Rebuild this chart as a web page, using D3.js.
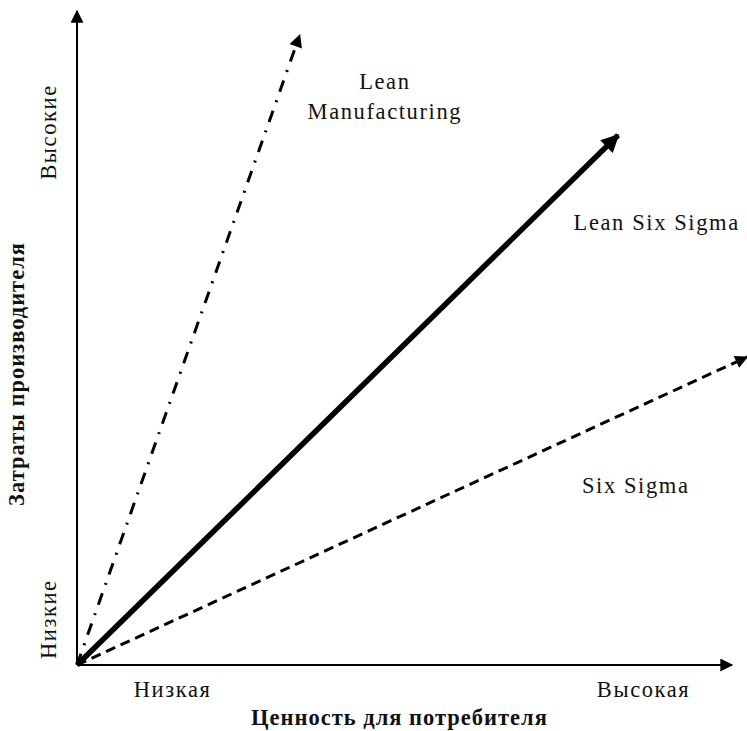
<!DOCTYPE html>
<html lang="ru">
<head>
<meta charset="utf-8">
<title>Lean / Six Sigma</title>
<style>
  body { margin: 0; background: #fff; }
  text { font-family: "Times New Roman", "Liberation Serif", "DejaVu Serif", serif; fill: #111; }
  .axis-title { font-weight: bold; font-size: 22.5px; letter-spacing: 1px; }
  .tick-label { font-size: 22.5px; letter-spacing: 1.6px; }
  .series-label { font-size: 22.5px; letter-spacing: 1.6px; }
</style>
</head>
<body>
<script src="https://cdn.jsdelivr.net/npm/d3@7"></script>
<script>
// data (both axes 0..100)
var seriesNames = ["Lean Manufacturing", "Lean Six Sigma", "Six Sigma"];
var seriesEndX = [34, 82.6, 102.3];
var seriesEndY = [96.3, 81, 47.1];
var seriesLabelLines = [["Lean", "Manufacturing"], ["Lean Six Sigma"], ["Six Sigma"]];
var seriesLabelX = [47, 88.5, 85.3];
var seriesLabelY = [88, 66.5, 26.3];

var xTickLabels = ["Низкая", "Высокая"];
var xTickValues = [14.6, 86.5];
var yTickLabels = ["Низкие", "Высокие"];
var yTickValues = [7, 81.5];
var xTitle = "Ценность для потребителя";
var yTitle = "Затраты производителя";

var width = 747, height = 731;
var x = d3.scaleLinear().domain([0, 100]).range([77, 732]);
var y = d3.scaleLinear().domain([0, 100]).range([665, 11]);

var svg = d3.select("body").append("svg")
    .attr("width", width)
    .attr("height", height);

var defs = svg.append("defs");
function marker(id, w, h) {
  defs.append("marker")
      .attr("id", id)
      .attr("viewBox", "0 0 10 10")
      .attr("refX", 9).attr("refY", 5)
      .attr("markerUnits", "userSpaceOnUse")
      .attr("markerWidth", w).attr("markerHeight", h)
      .attr("orient", "auto")
    .append("path")
      .attr("d", "M0,0 L10,5 L0,10 Z")
      .attr("fill", "#000");
}
marker("axisHead", 14, 13);
marker("thickHead", 20, 18);
marker("thinHead", 15, 13);

// axes
svg.append("line")
    .attr("x1", x(0)).attr("y1", y(0))
    .attr("x2", x(100)).attr("y2", y(0))
    .attr("stroke", "#000").attr("stroke-width", 2)
    .attr("marker-end", "url(#axisHead)");
svg.append("line")
    .attr("x1", x(0)).attr("y1", y(0))
    .attr("x2", x(0)).attr("y2", y(100))
    .attr("stroke", "#000").attr("stroke-width", 2)
    .attr("marker-end", "url(#axisHead)");

// series arrows
var styles = [
  { w: 3, dash: "12,9,2,9", head: "thinHead" },
  { w: 5.5, dash: null, head: "thickHead" },
  { w: 3, dash: "10,6", head: "thinHead" }
];
seriesNames.forEach(function(name, i) {
  svg.append("line")
      .attr("x1", x(0)).attr("y1", y(0))
      .attr("x2", x(seriesEndX[i])).attr("y2", y(seriesEndY[i]))
      .attr("stroke", "#000")
      .attr("stroke-width", styles[i].w)
      .attr("stroke-dasharray", styles[i].dash)
      .attr("marker-end", "url(#" + styles[i].head + ")");

  var t = svg.append("text")
      .attr("class", "series-label")
      .attr("text-anchor", "middle")
      .attr("x", x(seriesLabelX[i]))
      .attr("y", y(seriesLabelY[i]));
  seriesLabelLines[i].forEach(function(line, j) {
    t.append("tspan")
        .attr("x", x(seriesLabelX[i]))
        .attr("dy", j === 0 ? 0 : 30)
        .text(line);
  });
});

// tick labels
xTickLabels.forEach(function(l, i) {
  svg.append("text").attr("class", "tick-label")
      .attr("text-anchor", "middle")
      .attr("x", x(xTickValues[i])).attr("y", y(0) + 32)
      .text(l);
});
yTickLabels.forEach(function(l, i) {
  svg.append("text").attr("class", "tick-label")
      .attr("text-anchor", "middle")
      .attr("transform", "translate(" + (x(0) - 21) + "," + y(yTickValues[i]) + ") rotate(-90)")
      .text(l);
});

// titles
svg.append("text").attr("class", "axis-title")
    .attr("text-anchor", "middle")
    .attr("x", (x(0) + x(100)) / 2 - 5).attr("y", y(0) + 60)
    .text(xTitle);
svg.append("text").attr("class", "axis-title")
    .attr("text-anchor", "middle")
    .attr("transform", "translate(24," + y(44.5) + ") rotate(-90)")
    .text(yTitle);
</script>
</body>
</html>
